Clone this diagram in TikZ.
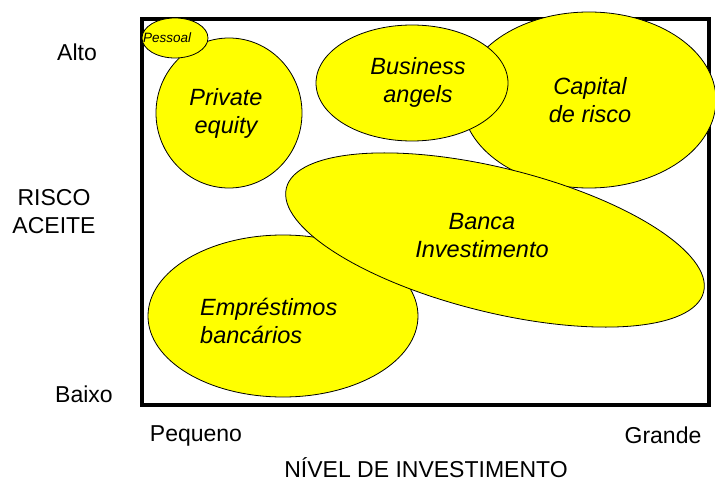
\documentclass[tikz,border=0pt]{standalone}
\usepackage{fontspec}
\setmainfont{Liberation Sans}
\usetikzlibrary{shapes.geometric}
\definecolor{blobyellow}{RGB}{255,255,0}
\tikzset{
  blob/.style={ellipse, draw=black, line width=0.8pt, fill=blobyellow, inner sep=0pt},
  lbl/.style={font=\fontsize{23}{28}\selectfont, align=center, inner sep=0pt},
  itx/.style={font=\fontsize{23.5}{28}\selectfont\itshape, align=center, inner sep=0pt},
}
\begin{document}
\begin{tikzpicture}[x=1pt,y=-1pt]
\useasboundingbox (0,0) rectangle (715,484);
% frame
\node[draw=black, line width=3.3pt, minimum width=567pt, minimum height=386pt, inner sep=0pt] (frame) at (425.5,212) {};
% ellipses
\node[blob, minimum width=254pt, minimum height=176pt] (cap) at (589,100) {};
\node[blob, minimum width=192pt, minimum height=116pt] (ba) at (412,83) {};
\node[blob, minimum width=270pt, minimum height=162pt] (emp) at (283,316) {};
\node[blob, rotate=-14, minimum width=430pt, minimum height=144pt] (banca) at (495,240) {};
\node[blob, minimum width=146pt, minimum height=150pt] (pe) at (229,113) {};
\node[blob, minimum width=66pt, minimum height=40pt] (pes) at (175,38) {};
% ellipse texts
\node[itx] (tcap) at (590,100) {Capital\\de risco};
\node[itx] (tba) at (418,82) {Business\\angels};
\node[itx] (tpe) at (226,113) {Private\\equity};
\node[itx] (tbanca) at (482,236) {Banca\\Investimento};
\node[itx, align=left, anchor=west] (temp) at (200,321) {Empréstimos\\bancários};
\node[font=\fontsize{13.5}{16}\selectfont\itshape, inner sep=0pt, anchor=west] (tpes) at (143,38) {Pessoal};
% axis labels
\node[lbl] (alto) at (77,52) {Alto};
\node[lbl] (risco) at (54,212) {RISCO\\ACEITE};
\node[lbl] (baixo) at (84,394) {Baixo};
\node[lbl] (peq) at (196,436) {Pequeno};
\node[lbl] (gr) at (663,435) {Grande};
\node[lbl] (niv) at (426,468) {NÍVEL DE INVESTIMENTO};
\end{tikzpicture}
\end{document}
